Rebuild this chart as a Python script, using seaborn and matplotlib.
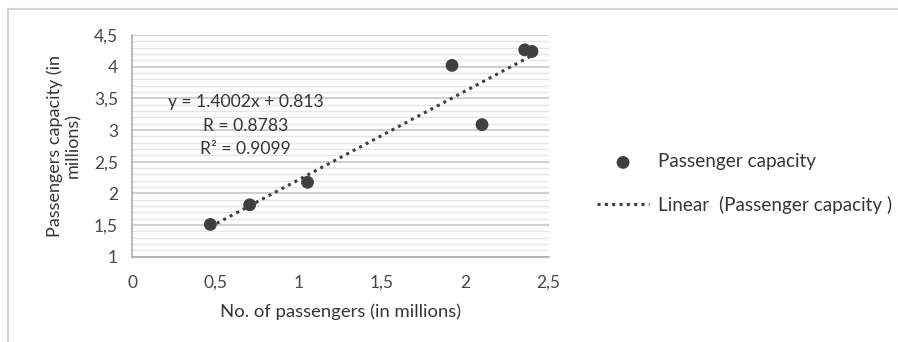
import numpy
import pandas
import seaborn
import matplotlib.pyplot as plot
from matplotlib.lines import Line2D
from matplotlib.ticker import MultipleLocator

# Data
passengers = [0.47, 0.706, 1.053, 1.92, 2.10, 2.356, 2.40]
capacity = [1.51, 1.82, 2.175, 4.02, 3.085, 4.265, 4.24]
x_ticks = [0, 0.5, 1, 1.5, 2, 2.5]
x_labels = ["0", "0,5", "1", "1,5", "2", "2,5"]
y_ticks = [1, 1.5, 2, 2.5, 3, 3.5, 4, 4.5]
y_labels = ["1", "1,5", "2", "2,5", "3", "3,5", "4", "4,5"]
fit_text = "y = 1.4002x + 0.813\nR = 0.8783\nR² = 0.9099"

df = pandas.DataFrame({"passengers": passengers, "capacity": capacity})

seaborn.set_style("white")
plot.rcParams['font.family'] = ['Lato', 'DejaVu Sans']

dark = '#3f3f3f'
txt = '#363636'

fig = plot.figure(figsize=(8.98, 3.42), dpi=100)
ax = fig.add_axes([0.147, 0.2494, 0.464, 0.6483])

ax.set_xlim(0, 2.5)
ax.set_ylim(1, 4.5)

# grid: major at 0.5, minor at 0.1 (horizontal only)
ax.yaxis.set_minor_locator(MultipleLocator(0.1))
ax.grid(axis='y', which='minor', color='#e6e6e6', linewidth=1.0)
ax.grid(axis='y', which='major', color='#c2c2c2', linewidth=1.1)
ax.grid(axis='x', visible=False)
ax.set_axisbelow(True)

seaborn.scatterplot(data=df, x="passengers", y="capacity", ax=ax, color=dark,
                    s=85, edgecolor='none', label='Passenger capacity', zorder=3)
seaborn.regplot(data=df, x="passengers", y="capacity", ax=ax, scatter=False, ci=None,
                color=dark, label='Linear  (Passenger capacity )',
                line_kws=dict(linestyle=(0, (1, 1.4)), linewidth=2.2))

ax.set_xticks(x_ticks, x_labels)
ax.set_yticks(y_ticks, y_labels)
ax.tick_params(axis='both', which='major', length=4, width=1, color='#a6a6a6',
               labelsize=12.5, labelcolor='#474747', direction='out')
ax.tick_params(axis='x', which='major', pad=9)
ax.tick_params(axis='y', which='major', pad=6)
ax.tick_params(axis='y', which='minor', length=0)
for side in ['top', 'right']:
    ax.spines[side].set_visible(False)
for side in ['left', 'bottom']:
    ax.spines[side].set_color('#a6a6a6')
    ax.spines[side].set_linewidth(1.1)

ax.set_xlabel("No. of passengers (in millions)", fontsize=13.3, color=txt, labelpad=9)
ax.set_ylabel("Passengers capacity (in\nmillions)", fontsize=13, color=txt, labelpad=9,
              linespacing=1.15)

ax.text(0.683, 3.07, fit_text, ha='center', va='center', fontsize=12.6, color=txt,
        linespacing=1.58)

if ax.legend_:
    ax.legend_.remove()
handles, labels = ax.get_legend_handles_labels()
fig.legend(handles, labels, loc='center left', bbox_to_anchor=(0.646, 0.463),
           frameon=False, fontsize=13.6, labelcolor=txt, handlelength=2.75,
           handletextpad=0.45, labelspacing=1.35)

# light frame around the chart area
fig.add_artist(Line2D([8 / 898, 1], [1 - 9 / 342, 1 - 9 / 342], color='#d4d4d4', linewidth=1.5))
fig.add_artist(Line2D([8 / 898, 8 / 898], [0, 1 - 9 / 342], color='#d4d4d4', linewidth=1.5))

fig.savefig("out.png", dpi=100)
